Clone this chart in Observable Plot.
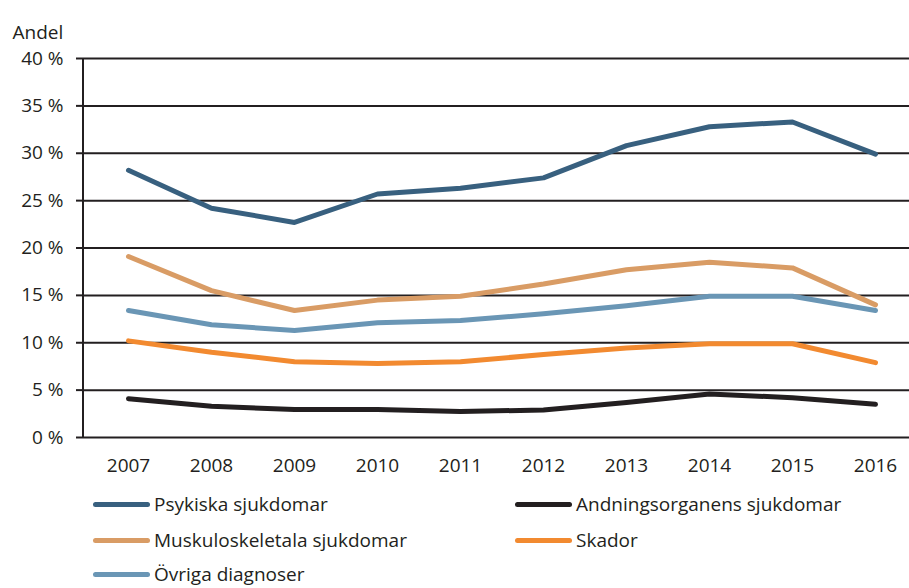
<!DOCTYPE html>
<html>
<head>
<meta charset="utf-8">
<script src="https://cdn.jsdelivr.net/npm/d3@7"></script>
<script src="https://cdn.jsdelivr.net/npm/@observablehq/plot@0.6"></script>
<style>
  html, body { margin: 0; padding: 0; background: #fff; }
  #wrap { position: relative; width: 909px; height: 588px; font-family: "Open Sans", sans-serif; color: #231f20; }
  #chart { position: absolute; left: 0; top: 0; }
  .leg { position: absolute; display: flex; align-items: center; font-size: 19px; white-space: nowrap; }
  .sw { width: 57px; height: 5px; border-radius: 3px; margin-right: 4px; }
</style>
</head>
<body>
<div id="wrap">
  <div id="chart"></div>
  <div id="legend"></div>
</div>
<script>
const years = [2007, 2008, 2009, 2010, 2011, 2012, 2013, 2014, 2015, 2016];
const seriesNames = ["Psykiska sjukdomar", "Andningsorganens sjukdomar", "Muskuloskeletala sjukdomar", "Skador", "Övriga diagnoser"];
const psykiska = [28.2, 24.2, 22.7, 25.7, 26.3, 27.4, 30.8, 32.8, 33.3, 29.9];
const andning = [4.1, 3.3, 2.95, 2.95, 2.75, 2.9, 3.7, 4.6, 4.2, 3.5];
const muskulo = [19.1, 15.5, 13.4, 14.5, 14.9, 16.2, 17.7, 18.5, 17.9, 14.0];
const skador = [10.2, 9.0, 8.0, 7.8, 8.0, 8.75, 9.45, 9.9, 9.9, 7.9];
const ovriga = [13.4, 11.9, 11.3, 12.1, 12.35, 13.05, 13.9, 14.9, 14.9, 13.4];
const yTicks = [0, 5, 10, 15, 20, 25, 30, 35, 40];
const colors = ["#38607f", "#231f20", "#d99c65", "#f28a30", "#6a96b5"];
const yLabel = "Andel";

const seriesValues = [psykiska, andning, muskulo, skador, ovriga];
const data = [];
seriesNames.forEach((name, s) => {
  years.forEach((yr, i) => data.push({series: name, year: yr, value: seriesValues[s][i]}));
});

const axisLine = (index, scales, values, dims) => {
  const l = d3.create("svg:line")
    .attr("x1", dims.marginLeft).attr("x2", dims.marginLeft)
    .attr("y1", scales.y(40)).attr("y2", scales.y(0))
    .attr("stroke", "#231f20").attr("stroke-width", 2);
  return l.node();
};

const chart = Plot.plot({
  width: 909,
  height: 485,
  marginLeft: 83,
  marginRight: 0,
  marginTop: 58,
  marginBottom: 48,
  style: { fontFamily: "Open Sans, sans-serif", fontSize: "19px", color: "#231f20", background: "#fff" },
  x: { type: "point", domain: years, range: [124, 879], padding: 0 },
  y: { domain: [0, 40] },
  color: { domain: seriesNames, range: colors },
  marks: [
    Plot.ruleY(yTicks, { stroke: "#231f20", strokeWidth: 2, strokeOpacity: 1 }),
    axisLine,
    Plot.axisY({ ticks: yTicks, tickFormat: d => d + " %", tickSize: 7, tickPadding: 13, strokeWidth: 2, stroke: "#231f20", label: null, fontSize: 19 }),
    Plot.axisX({ tickSize: 0, tickPadding: 21, tickFormat: d => String(d), label: null, fontSize: 19 }),
    Plot.text([yLabel], { frameAnchor: "top-left", text: d => d, dx: -71, dy: -33, textAnchor: "start", fontSize: 19, fill: "#231f20" }),
    Plot.line(data, { x: "year", y: "value", z: "series", stroke: "series", strokeWidth: 5, strokeLinecap: "round", strokeLinejoin: "round" })
  ]
});
document.getElementById("chart").appendChild(chart);

// Legend
const legendPos = [
  { left: 93, top: 504 },
  { left: 515, top: 504 },
  { left: 93, top: 540 },
  { left: 515, top: 540 },
  { left: 93, top: 574 }
];
const leg = document.getElementById("legend");
seriesNames.forEach((name, i) => {
  const d = document.createElement("div");
  d.className = "leg";
  d.style.left = legendPos[i].left + "px";
  d.style.top = (legendPos[i].top - 14) + "px";
  d.style.height = "28px";
  const sw = document.createElement("div");
  sw.className = "sw";
  sw.style.background = colors[i];
  const t = document.createElement("span");
  t.textContent = name;
  d.appendChild(sw); d.appendChild(t);
  leg.appendChild(d);
});
</script>
</body>
</html>
